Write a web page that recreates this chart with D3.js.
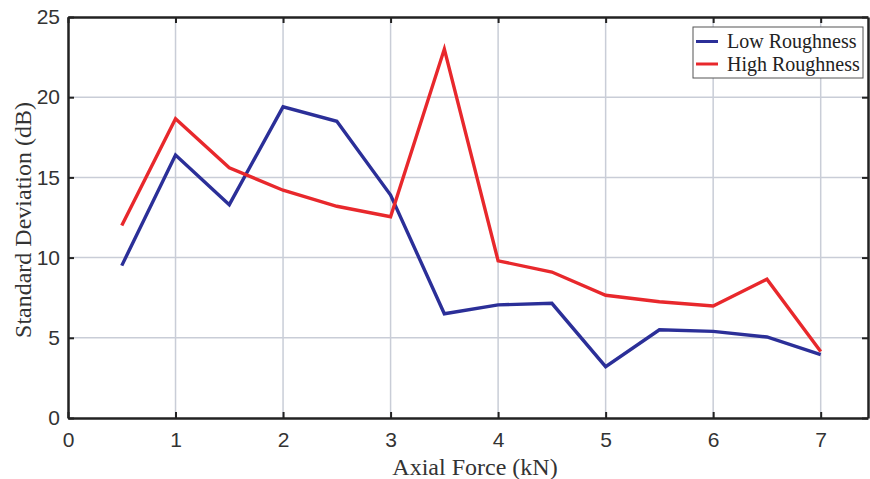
<script src="https://d3js.org/d3.v7.min.js"></script>

<style>
  body { margin: 0; background: #fff; }
  .tick text { font-family: "Liberation Sans", Arial, sans-serif; font-size: 21px; fill: #333; }
</style>

<body>
  <div id="chart"></div>
</body>

<script>
// data
var force = [0.5, 1, 1.5, 2, 2.5, 3, 3.5, 4, 4.5, 5, 5.5, 6, 6.5, 7]
var lowRough = [9.5, 16.4, 13.3, 19.4, 18.5, 13.9, 6.5, 7.05, 7.15, 3.2, 5.5, 5.4, 5.05, 3.95]
var highRough = [12.0, 18.65, 15.6, 14.2, 13.2, 12.55, 23.0, 9.8, 9.1, 7.65, 7.25, 6.98, 8.65, 4.15]
var xTicks = [0, 1, 2, 3, 4, 5, 6, 7]
var yTicks = [0, 5, 10, 15, 20, 25]
var seriesNames = ["Low Roughness", "High Roughness"]
var colors = ["#2b2f98", "#e8282c"]

var width = 870, height = 479
var margin = {top: 17, right: 2, bottom: 61, left: 68}

var svg = d3.select("#chart").append("svg")
  .attr("width", width)
  .attr("height", height)

var x = d3.scaleLinear()
  .domain([0, 7.44])
  .range([margin.left, width - margin.right])

var y = d3.scaleLinear()
  .domain([0, 25])
  .range([height - margin.bottom, margin.top])

// grid
svg.append("g")
  .selectAll("line.gx")
  .data(xTicks.slice(1))
  .enter().append("line")
  .attr("x1", function(d){ return x(d) })
  .attr("x2", function(d){ return x(d) })
  .attr("y1", y(0))
  .attr("y2", y(25))
  .attr("stroke", "#c9cdd7")
  .attr("stroke-width", 1.5)

svg.append("g")
  .selectAll("line.gy")
  .data(yTicks.slice(1, -1))
  .enter().append("line")
  .attr("x1", x(0))
  .attr("x2", x.range()[1])
  .attr("y1", function(d){ return y(d) })
  .attr("y2", function(d){ return y(d) })
  .attr("stroke", "#c9cdd7")
  .attr("stroke-width", 1.5)

// axes, ticks pointing inward
var xAxis = svg.append("g")
  .attr("transform", "translate(0," + y(0) + ")")
  .call(d3.axisBottom(x).tickValues(xTicks).tickSizeInner(-6).tickSizeOuter(0).tickPadding(14))
var xTop = svg.append("g")
  .attr("transform", "translate(0," + y(25) + ")")
  .call(d3.axisTop(x).tickValues(xTicks).tickSizeInner(-6).tickSizeOuter(0).tickFormat(""))
var yAxis = svg.append("g")
  .attr("transform", "translate(" + x(0) + ",0)")
  .call(d3.axisLeft(y).tickValues(yTicks).tickSizeInner(-6).tickSizeOuter(0).tickPadding(8))
var yRight = svg.append("g")
  .attr("transform", "translate(" + x.range()[1] + ",0)")
  .call(d3.axisRight(y).tickValues(yTicks).tickSizeInner(-6).tickSizeOuter(0).tickFormat(""))

svg.selectAll(".domain").attr("stroke", "#222").attr("stroke-width", 2.5)
svg.selectAll(".tick line").attr("stroke", "#222").attr("stroke-width", 2)

// lines
var line = d3.line()
  .x(function(d){ return x(d[0]) })
  .y(function(d){ return y(d[1]) })

;[lowRough, highRough].forEach(function(vals, i){
  svg.append("path")
    .datum(force.map(function(f, j){ return [f, vals[j]] }))
    .attr("d", line)
    .attr("fill", "none")
    .attr("stroke", colors[i])
    .attr("stroke-width", 3.4)
    .attr("stroke-linejoin", "miter")
})

// axis titles
svg.append("text")
  .attr("x", 475)
  .attr("y", 475)
  .attr("text-anchor", "middle")
  .style("font-family", "'Liberation Serif', 'Times New Roman', serif")
  .style("font-size", "24px")
  .style("fill", "#333")
  .text("Axial Force (kN)")

svg.append("text")
  .attr("transform", "translate(31," + 220 + ") rotate(-90)")
  .attr("text-anchor", "middle")
  .style("font-family", "'Liberation Serif', 'Times New Roman', serif")
  .style("font-size", "24px")
  .style("fill", "#333")
  .text("Standard Deviation (dB)")

// legend
var lg = svg.append("g").attr("transform", "translate(693,27)")
lg.append("rect")
  .attr("width", 170)
  .attr("height", 51)
  .attr("fill", "#fff")
  .attr("stroke", "#555")
  .attr("stroke-width", 1)

seriesNames.forEach(function(name, i){
  var yy = 14.5 + i * 22.5
  lg.append("line")
    .attr("x1", 3).attr("x2", 25)
    .attr("y1", yy).attr("y2", yy)
    .attr("stroke", colors[i])
    .attr("stroke-width", 3)
  lg.append("text")
    .attr("x", 34)
    .attr("y", yy + 6.5)
    .style("font-family", "'Liberation Serif', 'Times New Roman', serif")
    .style("font-size", "20px")
    .style("fill", "#222")
    .text(name)
})
</script>
